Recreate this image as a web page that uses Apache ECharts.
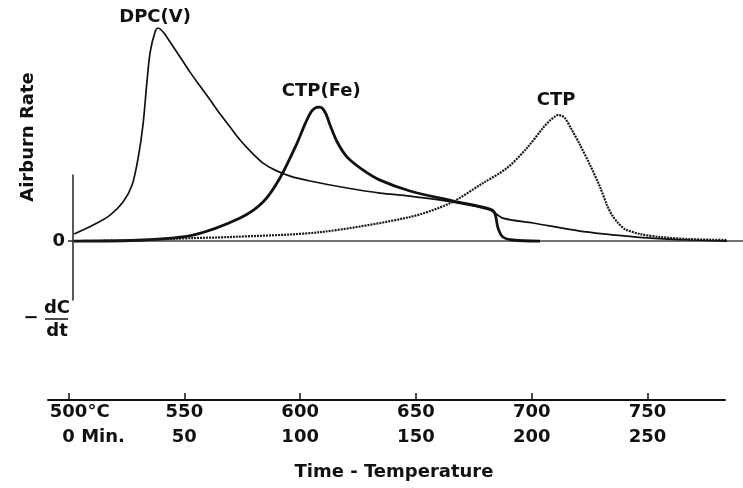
<!DOCTYPE html>
<html>
<head>
<meta charset="utf-8">
<script src="https://cdn.jsdelivr.net/npm/echarts@6/dist/echarts.min.js"></script>
<style>
    html, body { margin: 0; padding: 0; background: #fff; }
    #chart { width: 743px; height: 488px; }
</style>
</head>
<body>
<div id="chart"></div>
<script>
    // temperature (°C) and airburn rate (peak of DPC(V) = 100)
    const dpcTemp = [502.4, 510.6, 517.9, 523.5, 527.4, 530.0, 532.1, 533.8, 535.2, 537.3, 538.6, 540.8, 543.8, 548.1, 552.4, 556.7, 561.1, 565.4, 569.7, 574.0, 578.3, 583.9, 589.1, 595.6, 604.2, 620.1, 634.4, 647.3, 665.9, 681.8, 687.4, 700.4, 720.7, 741.0, 750.9, 768.1, 784.1]
    const dpcRate = [3.3, 7.5, 12.2, 18.3, 26.3, 39.0, 54.5, 74.6, 88.7, 98.1, 100, 98.1, 93.4, 86.4, 79.3, 72.8, 66.2, 59.6, 53.5, 47.4, 42.3, 36.6, 33.3, 30.5, 28.2, 24.9, 22.5, 21.1, 18.3, 14.6, 10.8, 8.5, 4.7, 2.3, 1.4, 0.5, 0]

    const feTemp = [502.4, 532.1, 553.7, 574.0, 583.9, 591.2, 598.6, 602.0, 604.6, 606.3, 607.7, 609.4, 611.1, 612.8, 615.9, 620.2, 627.1, 634.4, 647.3, 665.9, 681.8, 683.9, 685.3, 687.4, 691.7, 703.4]
    const feRate = [0, 0.5, 2.8, 10.8, 18.3, 29.6, 46.0, 54.9, 60.6, 62.4, 62.9, 62.4, 59.6, 54.5, 46.5, 39.4, 33.3, 28.6, 23.5, 18.8, 15.0, 13.1, 6.1, 1.9, 0.5, 0]

    const ctpTemp = [502.4, 532.1, 553.7, 569.7, 608.5, 647.3, 664.6, 678.8, 689.2, 697.8, 704.7, 707.7, 709.9, 711.2, 712.9, 714.2, 717.2, 720.7, 725.0, 729.3, 732.3, 734.5, 737.1, 740.1, 746.6, 755.2, 768.2, 784.1]
    const ctpRate = [0, 0.5, 1.4, 1.9, 4.2, 11.3, 17.8, 27.2, 34.3, 43.7, 53.1, 56.6, 58.5, 59.2, 58.7, 57.7, 52.1, 45.1, 35.7, 25.4, 16.9, 12.2, 8.5, 5.6, 3.3, 1.9, 0.9, 0.5]

    const tempTicks = [500, 550, 600, 650, 700, 750]
    const timeTicks = [0, 50, 100, 150, 200, 250]

    const font = 'DejaVu Sans'

    function zip(xs, ys) {
        return xs.map((x, i) => [x, ys[i]])
    }

    function peakLabel(text, offset) {
        return {
            symbolSize: 0,
            data: [{ type: 'max' }],
            label: {
                show: true,
                position: 'inside',
                offset: offset,
                formatter: text,
                color: '#111',
                fontFamily: font,
                fontWeight: 'bold',
                fontSize: 18
            }
        }
    }

    const chart = echarts.init(document.getElementById('chart'))

    const option = {
        animation: false,
        backgroundColor: '#fff',
        grid: [
            { left: 73, right: 0, top: 28, height: 277 },
            { left: 48, right: 18, top: 390, height: 10 },
            { left: 73, width: 20, top: 175, height: 125 }
        ],
        xAxis: [
            {
                type: 'value',
                gridIndex: 0,
                min: 501.9,
                max: 791.0,
                axisLine: { onZero: true, lineStyle: { color: '#444', width: 1.5 } },
                axisTick: { show: false },
                axisLabel: { show: false },
                splitLine: { show: false }
            },
            {
                type: 'value',
                gridIndex: 1,
                min: 491.1,
                max: 783.5,
                axisLine: { lineStyle: { color: '#111', width: 2 } },
                axisTick: {
                    inside: true,
                    length: 7,
                    customValues: tempTicks,
                    lineStyle: { color: '#111', width: 1.5 }
                },
                axisLabel: {
                    customValues: tempTicks,
                    margin: 1,
                    formatter: function (v) {
                        const i = tempTicks.indexOf(v)
                        if (i === 0) {
                            return '{h|°C}{n|' + v + '}{u|°C}\n{h2| Min.}{m|' + timeTicks[i] + '}{u2| Min.}'
                        }
                        return '{n|' + v + '}\n{m|' + timeTicks[i] + '}'
                    },
                    rich: {
                        n: { fontFamily: font, fontWeight: 'bold', fontSize: 18, color: '#111', lineHeight: 22 },
                        u: { fontFamily: font, fontWeight: 'bold', fontSize: 18, color: '#111', lineHeight: 22 },
                        h: { fontFamily: font, fontWeight: 'bold', fontSize: 18, color: 'rgba(0,0,0,0)', lineHeight: 22 },
                        m: { fontFamily: font, fontWeight: 'bold', fontSize: 18, color: '#111', lineHeight: 29 },
                        u2: { fontFamily: font, fontWeight: 'bold', fontSize: 18, color: '#111', lineHeight: 29 },
                        h2: { fontFamily: font, fontWeight: 'bold', fontSize: 18, color: 'rgba(0,0,0,0)', lineHeight: 29 }
                    }
                },
                splitLine: { show: false },
                name: 'Time - Temperature',
                nameLocation: 'middle',
                nameGap: 63,
                nameTextStyle: {
                    fontFamily: font,
                    fontWeight: 'bold',
                    fontSize: 18,
                    color: '#111',
                    padding: [0, 0, 0, 15]
                }
            },
            { type: 'value', gridIndex: 2, show: false }
        ],
        yAxis: [
            { type: 'value', gridIndex: 0, min: -30, max: 100, show: false },
            { type: 'value', gridIndex: 1, show: false },
            {
                type: 'value',
                gridIndex: 2,
                min: -27.7,
                max: 31,
                axisLine: { show: true, lineStyle: { color: '#222', width: 1.5 } },
                axisTick: { show: true, length: 5, customValues: [0], lineStyle: { color: '#222', width: 1.5 } },
                axisLabel: {
                    customValues: [0],
                    margin: 8,
                    color: '#111',
                    fontFamily: font,
                    fontWeight: 'bold',
                    fontSize: 18
                },
                splitLine: { show: false }
            }
        ],
        graphic: [
            {
                type: 'text',
                x: 28,
                y: 137,
                rotation: Math.PI / 2,
                style: {
                    text: 'Airburn Rate',
                    fill: '#111',
                    font: 'bold 18px "DejaVu Sans"',
                    align: 'center',
                    verticalAlign: 'middle'
                }
            },
            {
                type: 'text',
                x: 31,
                y: 318,
                style: { text: '−', fill: '#111', font: 'bold 18px "DejaVu Sans"', align: 'center', verticalAlign: 'middle' }
            },
            {
                type: 'text',
                x: 57,
                y: 308,
                style: { text: 'dC', fill: '#111', font: 'bold 18px "DejaVu Sans"', align: 'center', verticalAlign: 'middle' }
            },
            {
                type: 'line',
                shape: { x1: 45, y1: 319, x2: 68, y2: 319 },
                style: { stroke: '#111', lineWidth: 1.5 }
            },
            {
                type: 'text',
                x: 57,
                y: 331,
                style: { text: 'dt', fill: '#111', font: 'bold 18px "DejaVu Sans"', align: 'center', verticalAlign: 'middle' }
            }
        ],
        series: [
            {
                name: 'DPC(V)',
                type: 'line',
                xAxisIndex: 0,
                yAxisIndex: 0,
                data: zip(dpcTemp, dpcRate),
                smooth: 0.3,
                showSymbol: false,
                lineStyle: { color: '#111', width: 1.7 },
                markPoint: peakLabel('DPC(V)', [-3, -11])
            },
            {
                name: 'CTP(Fe)',
                type: 'line',
                xAxisIndex: 0,
                yAxisIndex: 0,
                data: zip(feTemp, feRate),
                smooth: 0.3,
                showSymbol: false,
                lineStyle: { color: '#111', width: 2.8 },
                markPoint: peakLabel('CTP(Fe)', [3, -16])
            },
            {
                name: 'CTP',
                type: 'line',
                xAxisIndex: 0,
                yAxisIndex: 0,
                data: zip(ctpTemp, ctpRate),
                smooth: 0.3,
                showSymbol: false,
                lineStyle: { color: '#1a1a1a', width: 2.2, type: [2, 1] },
                markPoint: peakLabel('CTP', [-2, -15])
            }
        ]
    }

    option && chart.setOption(option)
</script>
</body>
</html>
